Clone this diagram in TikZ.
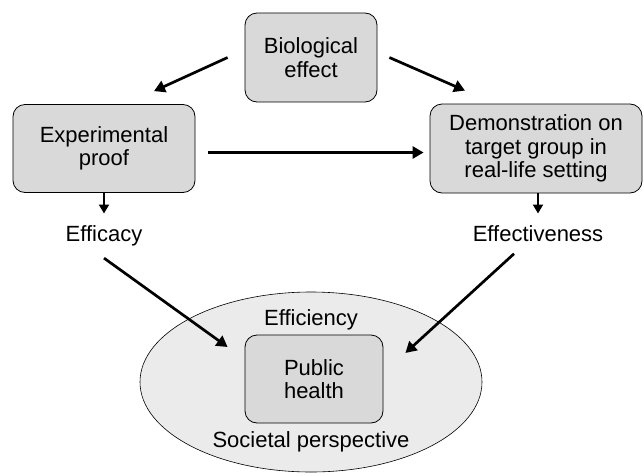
\documentclass[tikz,border=0pt]{standalone}
\usepackage{fontspec}
\setmainfont{Liberation Sans}
\usetikzlibrary{arrows.meta, positioning, shapes.geometric}
\definecolor{boxgray}{HTML}{D9D9D9}
\definecolor{ellgray}{HTML}{EBEBEB}

\begin{document}
\begin{tikzpicture}[x=1pt,y=1pt,
    every node/.style={font=\fontsize{22}{23.5}\selectfont},
    bloc/.style={draw, rounded corners=12pt, fill=boxgray, align=center, line width=0.8pt},
    fleche/.style={-{Triangle[length=11pt,width=12pt]}, line width=2.7pt},
    petite/.style={-{Triangle[length=9pt,width=10pt]}, line width=2pt}]
    \useasboundingbox (0,0) rectangle (644,475);

    % Ellipse de la perspective sociétale
    \node[draw, ellipse, fill=ellgray, line width=0.6pt, minimum width=342pt, minimum height=180pt, inner sep=0pt] (soc) at (311,93) {};

    % Boîtes
    \node[bloc, minimum width=132pt, minimum height=89pt] (bio) at (311,417.5) {Biological\\effect};
    \node[bloc, minimum width=182pt, minimum height=88pt] (exp) at (104,326.5) {Experimental\\proof};
    \node[bloc, minimum width=212pt, minimum height=89pt] (dem) at (536,326.5) {Demonstration on\\target group in\\real-life setting};
    \node[bloc, minimum width=138pt, minimum height=88pt] (ph) at (314,96) {Public\\health};

    % Étiquettes
    \node[anchor=base] (efficacy) at (104,234) {Efficacy};
    \node[anchor=base] (effect) at (538,234) {Effectiveness};
    \node[anchor=base] (effic) at (311,150) {Efficiency};
    \node[anchor=base] (societal) at (311,28) {Societal perspective};

    % Flèches
    \draw[fleche] ([xshift=-17pt]bio.west) -- ([xshift=50pt,yshift=13pt]exp.north);
    \draw[fleche] ([xshift=12pt]bio.east) -- ([xshift=-71pt,yshift=13pt]dem.north);
    \draw[fleche, shorten <=13pt, shorten >=6pt] ([yshift=-4pt]exp.east) -- ([yshift=-4pt]dem.west);
    \draw[petite, shorten >=8pt] (efficacy.north |- exp.south) -- (efficacy.north);
    \draw[petite, shorten >=8pt] (effect.north |- dem.south) -- (effect.north);
    \draw[fleche] ([yshift=-9pt]efficacy.south) -- ([xshift=-17pt,yshift=32pt]ph.west);
    \draw[fleche] ([xshift=-24pt,yshift=-9pt]effect.south) -- ([xshift=22pt,yshift=26pt]ph.east);
\end{tikzpicture}
\end{document}
